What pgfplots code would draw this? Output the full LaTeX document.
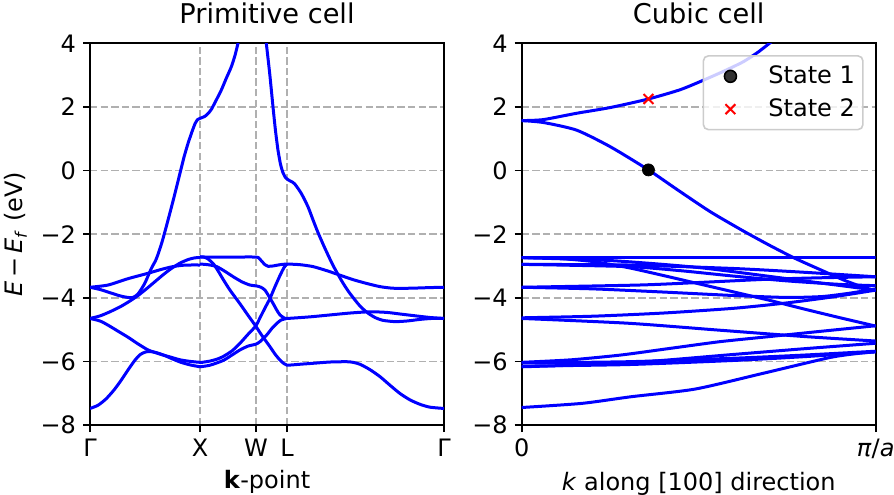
\documentclass[border=0pt]{standalone}
\usepackage{fontspec}
\setmainfont{DejaVu Sans}
\usepackage{pgfplots}
\pgfplotsset{compat=1.18}

\definecolor{gridc}{RGB}{176,176,176}
\definecolor{legc}{RGB}{204,204,204}

\pgfplotsset{
  panel/.style={
    scale only axis, width=177pt, height=190.85pt,
    ymin=-8, ymax=4, ytick={-8,-6,-4,-2,0,2,4},
    yticklabels={−8,−6,−4,−2,0,2,4},
    tick pos=left, tick align=outside, major tick length=3.5pt,
    tick style={black, line width=0.8pt},
    axis line style={line width=0.8pt},
    ticklabel style={font=\fontsize{12}{14}\selectfont},
    label style={font=\fontsize{12}{14}\selectfont},
    title style={font=\fontsize{13.6}{16}\selectfont},
    grid style={gridc, line width=0.8pt, dash pattern=on 3.7pt off 1.6pt},
  },
  band/.style={blue, line width=1.5pt, smooth, tension=0.4, line join=round, forget plot},
  statelegend/.style={legend image code/.code={\path (0pt,0pt) (22pt,0pt); \draw[mark repeat=2,mark phase=2,##1] plot coordinates {(0pt,0pt) (11pt,0pt) (22pt,0pt)};}},
}

\begin{document}
\begin{tikzpicture}
% ---------------- primitive cell ----------------
\begin{axis}[panel, at={(0pt,0pt)}, anchor=south west,
    xmin=0, xmax=354, xtick={0,110,166,197,354}, xticklabels={Γ,X,W,L,Γ},
    xmajorgrids, ymajorgrids,
    title={Primitive cell}, xlabel={\textbf{k}-point},
    ylabel={\textit{E}\,−\,\textit{E}\textsubscript{\textit{f}} (eV)}]
% Gamma - X
\addplot[band] coordinates {(0,-7.48) (8,-7.38) (16,-7.18) (24,-6.90) (31,-6.60) (38,-6.27) (45,-5.96) (50,-5.79) (55,-5.71) (60,-5.69) (67,-5.73) (75,-5.82) (83,-5.93) (91,-6.03) (100,-6.11) (110,-6.17)};
\addplot[band] coordinates {(0,-4.65) (10,-4.73) (18,-4.86) (28,-5.05) (38,-5.24) (48,-5.45) (58,-5.64) (65,-5.72) (72,-5.79) (80,-5.86) (90,-5.95) (100,-6.00) (110,-6.03)};
\addplot[band] coordinates {(0,-4.65) (10,-4.57) (20,-4.44) (31,-4.27) (40,-4.10) (48,-3.93) (56,-3.73) (64.7,-3.50) (73,-3.28) (81.3,-3.08) (90,-2.91) (98,-2.80) (104,-2.75) (110,-2.73)};
\addplot[band] coordinates {(0,-3.67) (18,-3.60) (38,-3.40) (58,-3.23) (70,-3.12) (81.3,-3.03) (92,-2.98) (100,-2.97) (110,-2.97)};
\addplot[band] coordinates {(0,-3.67) (10,-3.74) (20,-3.84) (30,-3.94) (38,-3.99) (43,-3.99) (48,-3.88) (54.7,-3.55) (61.3,-3.08) (66.3,-2.78) (72,-2.25) (78,-1.56) (84,-0.84) (89.7,-0.12) (94,0.42) (98,0.85) (102,1.22) (105,1.47) (107.5,1.60) (110,1.64) (114.7,1.70) (118,1.79) (121.3,1.92) (126,2.20) (131.3,2.53) (136,2.88) (141.3,3.26) (145,3.62) (148,4.0) (150,4.26)};
% X - W - L - Gamma
\addplot[band] coordinates {(175,4.35) (176.3,4.0) (179.7,3.05) (183,2.0) (185.5,1.25) (188,0.64) (190.5,0.2) (193,-0.07) (195.5,-0.22) (198,-0.29) (201,-0.34) (204.7,-0.42) (211.3,-0.72) (218,-1.14) (223,-1.55) (228,-1.95) (235,-2.45) (243,-2.98) (251.7,-3.47) (258,-3.78) (264,-4.03) (270,-4.26) (277,-4.46) (285,-4.62) (293,-4.71) (305,-4.75) (317,-4.73) (330,-4.68) (342,-4.65) (354,-4.65)};
\addplot[band] coordinates {(110,-2.72) (140,-2.72) (166,-2.72) (169,-2.76) (172,-2.86) (175,-2.96) (178,-3.01) (183,-3.00) (190,-2.96) (197,-2.94) (210,-2.96) (223,-3.02) (237,-3.15) (250,-3.29) (263,-3.43) (276.7,-3.55) (290,-3.65) (303,-3.70) (320,-3.70) (340,-3.68) (354,-3.67)};
\addplot[band] coordinates {(110,-2.71) (114,-2.72) (118,-2.78) (123.3,-2.93) (128,-3.15) (133.3,-3.43) (140,-3.76) (150,-4.19) (158,-4.55) (165.7,-4.89) (172,-5.19) (180,-5.54) (185,-5.77) (190,-5.96) (194,-6.07) (197,-6.12) (210,-6.09) (223,-6.06) (240,-6.02) (256.7,-6.01) (263,-6.03) (270,-6.09) (280,-6.26) (290,-6.48) (300,-6.75) (310,-7.01) (320,-7.21) (330,-7.35) (340,-7.44) (354,-7.48)};
\addplot[band] coordinates {(110,-2.94) (118,-2.96) (126.7,-3.02) (135,-3.17) (143.3,-3.34) (152,-3.50) (160,-3.60) (166.7,-3.63) (171,-3.67) (175,-3.76) (179,-3.96) (183.3,-4.19) (187,-4.40) (190,-4.54) (194,-4.63) (197,-4.65) (220,-4.60) (240,-4.54) (260,-4.48) (280,-4.44) (296.7,-4.46) (310,-4.51) (323.3,-4.56) (340,-4.62) (354,-4.65)};
\addplot[band] coordinates {(110,-6.04) (120,-5.99) (127,-5.93) (133,-5.85) (142,-5.67) (150,-5.43) (158,-5.15) (165.7,-4.89) (170,-4.63) (175,-4.32) (180,-4.02) (185,-3.65) (190,-3.30) (194,-3.05) (197,-2.94)};
\addplot[band] coordinates {(110,-6.17) (120,-6.12) (133.3,-5.97) (142,-5.80) (150,-5.64) (158,-5.52) (165.7,-5.46) (170,-5.38) (176.7,-5.17) (182,-4.96) (186.7,-4.81) (191,-4.70) (197,-4.65)};
\end{axis}

% ---------------- cubic cell ----------------
\begin{axis}[panel, at={(215.85pt,0pt)}, anchor=south west,
    xmin=0, xmax=1, xtick={0,1}, xticklabels={0,{\textit{π}/\textit{a}}},
    ymajorgrids,
    title={Cubic cell}, xlabel={\textit{k} along [100] direction},
    legend style={at={(0.966,0.969)}, anchor=north east, draw=legc, line width=0.8pt,
      rounded corners=2.4pt, fill=white, fill opacity=0.8, text opacity=1,
      font=\fontsize{12}{14}\selectfont, inner xsep=2pt, inner ysep=3pt, row sep=2pt,
      /tikz/every odd column/.append style={column sep=5.5pt}},
    legend cell align=left]
\addplot[band] coordinates {(0,1.57) (0.06,1.60) (0.155,1.80) (0.25,1.98) (0.358,2.25) (0.45,2.55) (0.532,2.93) (0.58,3.17) (0.626,3.42) (0.665,3.70) (0.70,4.0) (0.72,4.17)};
\addplot[band] coordinates {(0,1.57) (0.061,1.51) (0.155,1.27) (0.25,0.75) (0.358,0.02) (0.438,-0.59) (0.532,-1.29) (0.626,-1.90) (0.7,-2.35) (0.772,-2.76) (0.85,-3.15) (0.909,-3.44) (0.96,-3.65) (1,-3.78)};
\addplot[band] coordinates {(0,-2.74) (1,-2.74)};
\addplot[band] coordinates {(0,-2.74) (0.1,-2.76) (0.2,-2.86) (0.3,-3.05) (0.4,-3.3) (0.5,-3.56) (0.6,-3.82) (0.7,-4.08) (0.8,-4.36) (0.9,-4.63) (1,-4.89)};
\addplot[band] coordinates {(0,-2.74) (0.25,-2.83) (0.5,-3.05) (0.75,-3.4) (1,-3.76)};
\addplot[band] coordinates {(0,-2.95) (0.3,-3.02) (0.45,-3.15) (0.6,-3.32) (0.75,-3.47) (0.9,-3.58) (1,-3.62)};
\addplot[band] coordinates {(0,-2.95) (0.3,-2.97) (0.6,-3.08) (0.8,-3.2) (1,-3.34)};
\addplot[band] coordinates {(0,-3.67) (0.33,-3.60) (0.5,-3.52) (0.69,-3.42) (0.85,-3.37) (1,-3.34)};
\addplot[band] coordinates {(0,-3.67) (0.2,-3.72) (0.4,-3.82) (0.6,-3.93) (0.75,-3.99) (0.85,-3.96) (0.93,-3.85) (1,-3.72)};
\addplot[band] coordinates {(0,-4.63) (0.2,-4.58) (0.4,-4.48) (0.6,-4.33) (0.75,-4.16) (0.88,-3.97) (1,-3.76)};
\addplot[band] coordinates {(0,-4.65) (0.3,-4.8) (0.56,-5.02) (0.8,-5.22) (1,-5.36)};
\addplot[band] coordinates {(0,-6.03) (0.14,-5.95) (0.28,-5.80) (0.42,-5.59) (0.56,-5.38) (0.7,-5.22) (0.84,-5.06) (1,-4.88)};
\addplot[band] coordinates {(0,-6.17) (0.3,-6.05) (0.6,-5.78) (0.8,-5.6) (1,-5.43)};
\addplot[band] coordinates {(0,-6.05) (0.3,-6.01) (0.6,-5.9) (0.8,-5.8) (1,-5.68)};
\addplot[band] coordinates {(0,-6.15) (0.3,-6.1) (0.6,-5.97) (0.8,-5.85) (1,-5.70)};
\addplot[band] coordinates {(0,-7.45) (0.17,-7.32) (0.31,-7.11) (0.49,-6.87) (0.68,-6.38) (0.87,-5.88) (0.95,-5.75) (1,-5.70)};
% marked states
\addplot[only marks, mark=*, mark size=3pt, black, statelegend] coordinates {(0.358,0.02)};
\addlegendentry{State 1}
\addplot[only marks, mark=x, mark size=3.5pt, red, line width=1pt, statelegend] coordinates {(0.358,2.25)};
\addlegendentry{State 2}
\end{axis}
\pgfresetboundingbox
\path[use as bounding box] (-45pt,-34.5pt) rectangle (402pt,212.5pt);
\end{tikzpicture}
\end{document}
